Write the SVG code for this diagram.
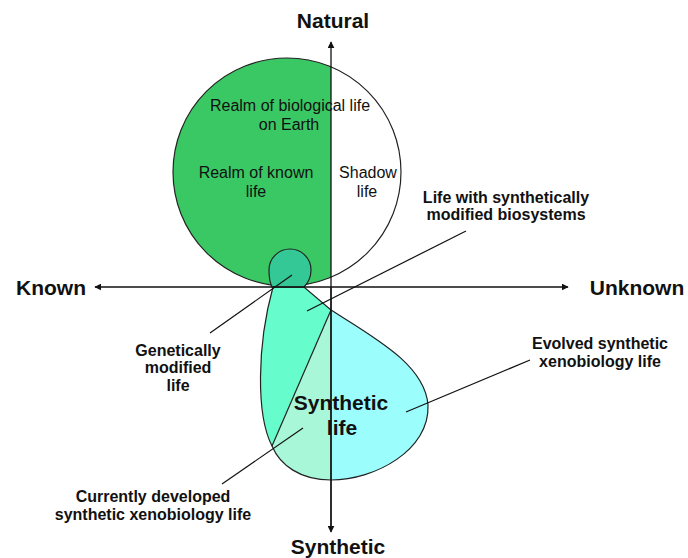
<svg xmlns="http://www.w3.org/2000/svg" width="688" height="558" viewBox="0 0 688 558">
<style>
text{font-family:"Liberation Sans",Arial,sans-serif;fill:#111;text-anchor:middle}
.big{font-size:21px;font-weight:bold}
.lab{font-size:16px;font-weight:bold}
.reg{font-size:16px}
.edge{fill:none;stroke:#222;stroke-width:1.2}
.lead{stroke:#111;stroke-width:1.2;fill:none}
.axis{stroke:#111;stroke-width:1.3;fill:none}
</style>
<defs>
<marker id="ah" viewBox="0 0 10 10" refX="9" refY="5" markerWidth="7" markerHeight="7" markerUnits="userSpaceOnUse" orient="auto">
<path d="M0,0 L10,5 L0,10 Z" fill="#111"/>
</marker>
<clipPath id="bigc"><circle cx="287" cy="172" r="114"/></clipPath>
<clipPath id="blobc"><path d="M273 287 L304 287 L331 310 C375 338 425 365 428 405 C430 450 375 480 331 480 C300 480 280 465 272 446 C256 415 257 345 273 287 Z"/></clipPath>
</defs>

<g id="realm-circle">
<circle cx="287" cy="172" r="114" fill="#fff"/>
<rect x="170" y="50" width="161" height="240" fill="#3ac864" clip-path="url(#bigc)"/>
<circle cx="287" cy="172" r="114" class="edge"/>
</g>

<g id="synthetic-blob">
<g clip-path="url(#blobc)">
<rect x="250" y="280" width="200" height="210" fill="#66fccc"/>
<polygon points="331,310 272,446 260,500 331,500" fill="#a9f7d9"/>
<rect x="331" y="280" width="120" height="210" fill="#9cfdfd"/>
</g>
<line x1="331" y1="310" x2="272" y2="446" class="edge"/>
<path class="edge" d="M273 287 L304 287 L331 310 C375 338 425 365 428 405 C430 450 375 480 331 480 C300 480 280 465 272 446 C256 415 257 345 273 287"/>
</g>

<g id="gm-knob">
<path d="M272 287 C269 281 269 274 269 270 A21 21 0 0 1 311 270 C311 277 308 283 304 287 Z" class="edge" style="fill:#33c896"/>
</g>

<g id="connectors">
<line class="axis" x1="331" y1="530" x2="331" y2="42" marker-end="url(#ah)"/>
<line class="axis" x1="331" y1="287" x2="331" y2="532" marker-end="url(#ah)"/>
<line class="axis" x1="331" y1="287" x2="95" y2="287" marker-end="url(#ah)"/>
<line class="axis" x1="331" y1="287" x2="568" y2="287" marker-end="url(#ah)"/>
<line class="lead" x1="307" y1="311" x2="466" y2="231"/>
<line class="lead" x1="292" y1="275" x2="210" y2="333"/>
<line class="lead" x1="406" y1="412" x2="530" y2="360"/>
<line class="lead" x1="303" y1="428" x2="222" y2="484"/>
</g>

<g id="axis-labels">
<text class="big" x="333" y="28">Natural</text>
<text class="big" x="51" y="295">Known</text>
<text class="big" x="637" y="295">Unknown</text>
<text class="big" x="338" y="554">Synthetic</text>
</g>

<g id="region-labels">
<text class="reg" x="290" y="111">Realm of biological life</text>
<text class="reg" x="289" y="130">on Earth</text>
<text class="reg" x="256" y="178">Realm of known</text>
<text class="reg" x="256" y="197">life</text>
<text class="reg" x="368" y="178">Shadow</text>
<text class="reg" x="367" y="197">life</text>
</g>

<g id="node-labels">
<text class="lab" x="506" y="203">Life with synthetically</text>
<text class="lab" x="506" y="220">modified biosystems</text>
<text class="lab" x="178" y="356">Genetically</text>
<text class="lab" x="178" y="373">modified</text>
<text class="lab" x="178" y="391">life</text>
<text class="lab" x="600" y="349">Evolved synthetic</text>
<text class="lab" x="600" y="367">xenobiology life</text>
<text class="lab" x="153" y="502">Currently developed</text>
<text class="lab" x="153" y="520">synthetic xenobiology life</text>
<text class="big" x="341" y="410">Synthetic</text>
<text class="big" x="342" y="435">life</text>
</g>
</svg>
